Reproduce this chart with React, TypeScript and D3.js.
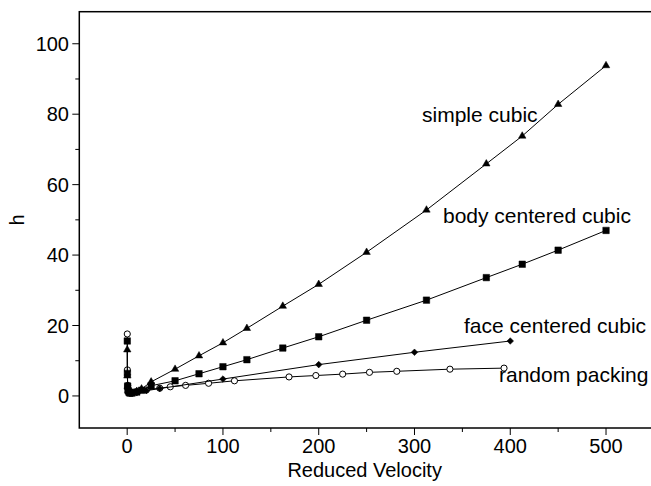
import React from "react";
import {
  line,
  scaleLinear,
  symbol,
  symbolCircle,
  symbolDiamond2,
  symbolSquare,
  symbolTriangle,
  range,
} from "d3";

// simple cubic
const velSC = [0.1, 0.2, 0.5, 1, 2, 3, 5, 10, 15, 25, 50, 75, 100, 125, 162.5, 200, 250, 312.5, 375, 412.5, 450, 500];
const hSC = [13.1, 5.7, 2.6, 1.6, 1.1, 0.9, 0.9, 1.3, 2.0, 4.0, 7.6, 11.4, 15.1, 19.2, 25.5, 31.7, 40.8, 52.8, 65.9, 73.8, 82.8, 93.8];

// body centered cubic
const velBCC = [0.1, 0.2, 0.5, 1, 2, 3, 5, 10, 15, 25, 50, 75, 100, 125, 162.5, 200, 250, 312.5, 375, 412.5, 450, 500];
const hBCC = [15.6, 6.4, 2.8, 1.5, 1.0, 0.8, 0.8, 1.1, 1.6, 2.9, 4.3, 6.3, 8.3, 10.3, 13.6, 16.8, 21.5, 27.2, 33.6, 37.4, 41.4, 47.0];

// face centered cubic
const velFCC = [0.2, 0.5, 1, 2, 3, 5, 10, 20, 34, 100, 200, 300, 400];
const hFCC = [6.0, 2.5, 1.4, 0.9, 0.7, 0.7, 0.9, 1.5, 2.1, 4.8, 8.9, 12.4, 15.6];

// random packing
const velRP = [0.1, 0.2, 0.5, 1, 2, 3, 5, 10, 20, 34, 45, 61, 85, 112, 169, 197, 225, 253, 281.5, 337, 393.5];
const hRP = [17.6, 7.4, 3.0, 1.7, 1.1, 1.0, 1.0, 1.2, 1.7, 2.2, 2.6, 3.0, 3.6, 4.3, 5.4, 5.8, 6.2, 6.7, 7.0, 7.6, 7.9];

const xMajor = [0, 100, 200, 300, 400, 500];
const xMinor = [50, 150, 250, 350, 450];
const yMajor = [0, 20, 40, 60, 80, 100];
const yMinor = [10, 30, 50, 70, 90];

const width = 651;
const height = 486;
const plot = { left: 79.3, right: 652, top: 11.7, bottom: 428 };

const x = scaleLinear().domain([-50, 548]).range([plot.left, plot.right]);
const y = scaleLinear().domain([-9.1, 109.1]).range([plot.bottom, plot.top]);

const font = "Arial, 'Liberation Sans', sans-serif";

type Series = {
  vel: number[];
  h: number[];
  shape: any;
  size: number;
  open?: boolean;
  label: string;
  lx: number;
  ly: number;
};

const series: Series[] = [
  { vel: velRP, h: hRP, shape: symbolCircle, size: 30, open: true, label: "random packing", lx: 499, ly: 381.7 },
  { vel: velFCC, h: hFCC, shape: symbolDiamond2, size: 28, label: "face centered cubic", lx: 464, ly: 333.3 },
  { vel: velBCC, h: hBCC, shape: symbolSquare, size: 42, label: "body centered cubic", lx: 443, ly: 223 },
  { vel: velSC, h: hSC, shape: symbolTriangle, size: 24, label: "simple cubic", lx: 422, ly: 121.7 },
];

export default function App() {
  return (
    <svg
      width={width}
      height={height}
      viewBox={`0 0 ${width} ${height}`}
      style={{ position: "absolute", left: 0, top: 0, background: "white" }}
    >
      <defs>
        <clipPath id="plotclip">
          <rect x={plot.left} y={plot.top} width={plot.right - plot.left} height={plot.bottom - plot.top} />
        </clipPath>
      </defs>

      {/* series */}
      <g clipPath="url(#plotclip)">
        {series.map((s, si) => {
          const pts = range(s.vel.length).map((i) => [s.vel[i], s.h[i]] as [number, number]);
          const path = line<[number, number]>()
            .x((d) => x(d[0]))
            .y((d) => y(d[1]))(pts);
          const sym = symbol(s.shape, s.size)();
          return (
            <g key={si}>
              <path d={path || ""} fill="none" stroke="black" strokeWidth={1} />
              {pts.map((d, i) => (
                <path
                  key={i}
                  d={sym || ""}
                  transform={`translate(${x(d[0])},${y(d[1])})`}
                  fill={s.open ? "white" : "black"}
                  stroke="black"
                  strokeWidth={s.open ? 1 : 0.5}
                />
              ))}
            </g>
          );
        })}
      </g>

      {/* labels */}
      {series.map((s, si) => (
        <text key={si} x={s.lx} y={s.ly} fontFamily={font} fontSize={21} fill="black">
          {s.label}
        </text>
      ))}

      {/* frame */}
      <rect
        x={plot.left}
        y={plot.top}
        width={plot.right - plot.left}
        height={plot.bottom - plot.top}
        fill="none"
        stroke="black"
        strokeWidth={1.5}
      />

      {/* x axis */}
      {xMajor.map((t) => (
        <g key={t}>
          <line x1={x(t)} x2={x(t)} y1={plot.bottom} y2={plot.bottom + 7} stroke="black" strokeWidth={1} />
          <text x={x(t)} y={453} textAnchor="middle" fontFamily={font} fontSize={20}>
            {t}
          </text>
        </g>
      ))}
      {xMinor.map((t) => (
        <line key={t} x1={x(t)} x2={x(t)} y1={plot.bottom} y2={plot.bottom + 4} stroke="black" strokeWidth={1} />
      ))}
      <text x={(plot.left + 650) / 2} y={477} textAnchor="middle" fontFamily={font} fontSize={20}>
        Reduced Velocity
      </text>

      {/* y axis */}
      {yMajor.map((t) => (
        <g key={t}>
          <line x1={plot.left - 7} x2={plot.left} y1={y(t)} y2={y(t)} stroke="black" strokeWidth={1} />
          <text x={69} y={y(t)} dy="0.35em" textAnchor="end" fontFamily={font} fontSize={20}>
            {t}
          </text>
        </g>
      ))}
      {yMinor.map((t) => (
        <line key={t} x1={plot.left - 4} x2={plot.left} y1={y(t)} y2={y(t)} stroke="black" strokeWidth={1} />
      ))}
      <text
        transform={`translate(24, ${(plot.top + plot.bottom) / 2}) rotate(-90)`}
        textAnchor="middle"
        fontFamily={font}
        fontSize={20}
      >
        h
      </text>
    </svg>
  );
}
